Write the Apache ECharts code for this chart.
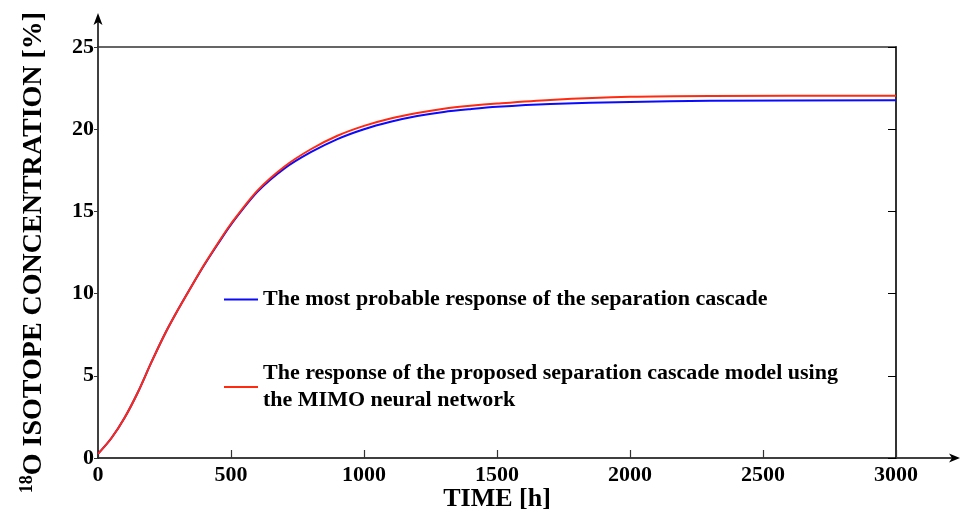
<!DOCTYPE html>
<html>
<head>
<meta charset="utf-8">
<script src="https://cdn.jsdelivr.net/npm/echarts@6/dist/echarts.min.js"></script>
<style>
	html, body { margin: 0; padding: 0; background: #fff; }
	#chart { width: 962px; height: 511px; }
</style>
</head>
<body>
<div id="chart"></div>
<script>
// time axis [h]
const timeHours = [0, 50, 100, 150, 200, 250, 300, 350, 400, 450, 500, 600, 700, 800, 900, 1000, 1100, 1200, 1300, 1400, 1500, 1700, 2000, 2300, 3000];
// most probable response of the cascade [%]
const mostProbable = [0.25, 1.2, 2.45, 4.0, 5.8, 7.5, 9.0, 10.4, 11.75, 13.0, 14.2, 16.2, 17.6, 18.6, 19.4, 20.0, 20.45, 20.8, 21.05, 21.22, 21.36, 21.53, 21.66, 21.73, 21.76];
// response of the MIMO neural network model [%]
const proposedModel = [0.25, 1.2, 2.45, 4.0, 5.8, 7.5, 9.0, 10.4, 11.78, 13.05, 14.25, 16.28, 17.72, 18.78, 19.6, 20.2, 20.65, 20.98, 21.24, 21.42, 21.56, 21.78, 21.97, 22.02, 22.03];
const xTicks = { min: 0, max: 3000, interval: 500 };
const yTicks = { min: 0, max: 25, interval: 5 };
const seriesNames = [
	'The most probable response of the separation cascade',
	'The response of the proposed separation cascade model using\nthe MIMO neural network'
];

const font = 'Liberation Serif';
const chart = echarts.init(document.getElementById('chart'));

const labelStyle = {
	fontFamily: font,
	fontWeight: 'bold',
	fontSize: 22,
	color: '#000',
	formatter: v => String(v)
};

chart.setOption({
	animation: false,
	backgroundColor: '#fff',
	grid: {
		left: 98,
		right: 66,
		top: 47,
		bottom: 53,
		containLabel: false,
		outerBoundsMode: 'none'
	},
	legend: {
		orient: 'vertical',
		left: 219,
		top: 281,
		itemGap: 47,
		itemWidth: 34,
		itemHeight: 2,
		icon: 'rect',
		textStyle: {
			fontFamily: font,
			fontWeight: 'bold',
			fontSize: 22,
			lineHeight: 27,
			color: '#000'
		},
		data: seriesNames
	},
	xAxis: [{
		type: 'value',
		min: xTicks.min,
		max: xTicks.max,
		interval: xTicks.interval,
		name: 'TIME [h]',
		nameLocation: 'middle',
		nameGap: 28,
		nameMoveOverlap: false,
		nameTextStyle: {
			fontFamily: font,
			fontWeight: 'bold',
			fontSize: 26,
			color: '#000'
		},
		axisLine: { show: true, onZero: false, lineStyle: { color: '#000', width: 1.5 } },
		axisTick: { show: true, inside: true, length: 8, lineStyle: { color: '#333', width: 1.2 } },
		axisLabel: Object.assign({ margin: 6 }, labelStyle),
		splitLine: { show: false }
	}, {
		type: 'value',
		position: 'top',
		min: xTicks.min,
		max: xTicks.max,
		interval: xTicks.interval,
		axisLine: { show: true, onZero: false, lineStyle: { color: '#333', width: 1.5 } },
		axisTick: { show: false },
		axisLabel: { show: false },
		splitLine: { show: false }
	}],
	yAxis: [{
		type: 'value',
		min: yTicks.min,
		max: yTicks.max,
		interval: yTicks.interval,
		name: '{sup|18}{main|O ISOTOPE CONCENTRATION [%]}',
		nameLocation: 'middle',
		nameGap: 48,
		nameRotate: 90,
		nameTextStyle: {
			fontFamily: font,
			fontWeight: 'bold',
			color: '#000',
			rich: {
				sup: { fontFamily: font, fontWeight: 'bold', fontSize: 18, color: '#000', padding: [0, 0, 14, 0] },
				main: { fontFamily: font, fontWeight: 'bold', fontSize: 28, color: '#000' }
			}
		},
		axisLine: { show: true, onZero: false, lineStyle: { color: '#000', width: 1.5 } },
		axisTick: { show: true, inside: false, length: 4, lineStyle: { color: '#333' } },
		axisLabel: Object.assign({ margin: 4 }, labelStyle),
		splitLine: { show: false }
	}, {
		type: 'value',
		position: 'right',
		min: yTicks.min,
		max: yTicks.max,
		interval: yTicks.interval,
		axisLine: { show: true, onZero: false, lineStyle: { color: '#333', width: 2 } },
		axisTick: { show: true, inside: true, length: 8, lineStyle: { color: '#000' } },
		axisLabel: { show: false },
		splitLine: { show: false }
	}],
	series: [{
		name: seriesNames[0],
		type: 'line',
		smooth: 0.3,
		showSymbol: false,
		lineStyle: { color: '#0a0aff', width: 2 },
		itemStyle: { color: '#0a0aff' },
		data: timeHours.map((t, i) => [t, mostProbable[i]])
	}, {
		name: seriesNames[1],
		type: 'line',
		smooth: 0.3,
		showSymbol: false,
		lineStyle: { color: '#ff2a10', width: 2 },
		itemStyle: { color: '#ff2a10' },
		data: timeHours.map((t, i) => [t, proposedModel[i]])
	}]
});

// axis arrows that run past the plot box
const origin = chart.convertToPixel({ gridIndex: 0 }, [xTicks.min, yTicks.min]);
const corner = chart.convertToPixel({ gridIndex: 0 }, [xTicks.max, yTicks.max]);
const xEnd = 960;
const yEnd = 13;
chart.setOption({
	graphic: [{
		type: 'line',
		shape: { x1: corner[0], y1: origin[1], x2: xEnd - 4, y2: origin[1] },
		style: { stroke: '#000', lineWidth: 1.5 }
	}, {
		type: 'polygon',
		shape: { points: [[xEnd, origin[1]], [xEnd - 11, origin[1] - 4.5], [xEnd - 8, origin[1]], [xEnd - 11, origin[1] + 4.5]] },
		style: { fill: '#000' }
	}, {
		type: 'line',
		shape: { x1: origin[0], y1: corner[1], x2: origin[0], y2: yEnd + 4 },
		style: { stroke: '#000', lineWidth: 1.5 }
	}, {
		type: 'polygon',
		shape: { points: [[origin[0], yEnd], [origin[0] - 4.5, yEnd + 12], [origin[0], yEnd + 9], [origin[0] + 4.5, yEnd + 12]] },
		style: { fill: '#000' }
	}]
});
</script>
</body>
</html>
